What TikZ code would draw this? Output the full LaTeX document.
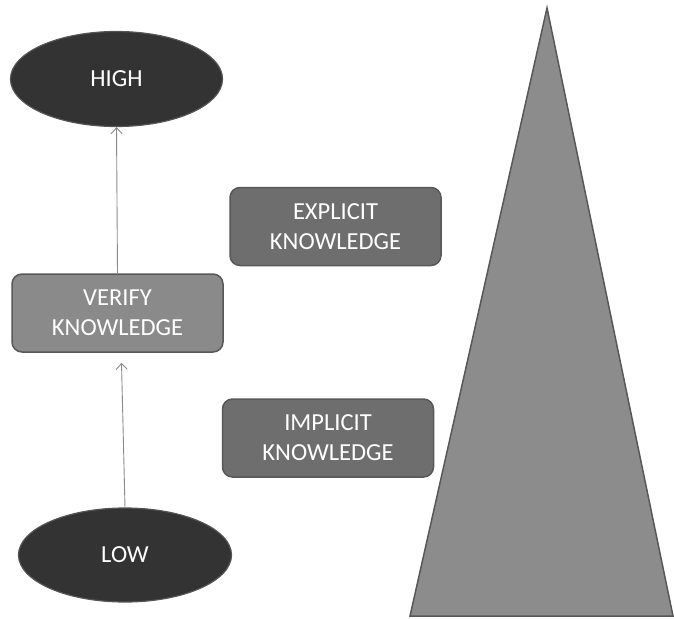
\documentclass[tikz,border=0pt]{standalone}
\usepackage{fontspec}
\setmainfont{Carlito}
\usetikzlibrary{shapes.geometric,arrows.meta}
\definecolor{ovalfill}{HTML}{333333}
\definecolor{ovaledge}{HTML}{555555}
\definecolor{verifyfill}{HTML}{8A8A8A}
\definecolor{kfill}{HTML}{6E6E6E}
\definecolor{boxedge}{HTML}{585858}
\definecolor{trifill}{HTML}{8C8C8C}
\definecolor{linkgray}{HTML}{8A8A8A}
\tikzset{
  oval/.style={ellipse, draw=ovaledge, line width=1.2pt, fill=ovalfill,
    inner sep=0pt, text=white, font=\fontsize{24.5}{30}\selectfont},
  levelbox/.style={rectangle, rounded corners=10pt, draw=boxedge, line width=1.5pt,
    inner sep=0pt, minimum width=211pt, minimum height=78pt, text=white,
    align=center, font=\fontsize{24.5}{30}\selectfont},
  link/.style={draw=linkgray, line width=0.9pt,
    -{Straight Barb[length=6pt,width=11pt,line width=0.9pt]}},
}
\begin{document}
\begin{tikzpicture}[x=1pt,y=-1pt]
  \useasboundingbox (0,0) rectangle (674,618);
  % pyramid on the right
  \filldraw[fill=trifill, draw=boxedge, line width=1.5pt, line join=miter]
    (547,8) -- (673,616) -- (410,616) -- cycle;
  % level ovals
  \node[oval, minimum width=212pt, minimum height=95pt] (high) at (116.5,79) {HIGH};
  \node[oval, minimum width=213pt, minimum height=94pt] (low) at (125,555) {LOW};
  % knowledge boxes
  \node[levelbox, fill=verifyfill] (verify) at (117.5,313) {VERIFY\\KNOWLEDGE};
  \node[levelbox, fill=kfill] (explicit) at (335.5,226.5) {EXPLICIT\\KNOWLEDGE};
  \node[levelbox, fill=kfill] (implicit) at (328,438) {IMPLICIT\\KNOWLEDGE};
  % connectors
  \coordinate (verifytip) at ([xshift=4pt,yshift=-10pt]verify.south);
  \draw[link] (low.north) -- (verifytip);
  \draw[link] (verify.north) -- (high.south);
\end{tikzpicture}
\end{document}
